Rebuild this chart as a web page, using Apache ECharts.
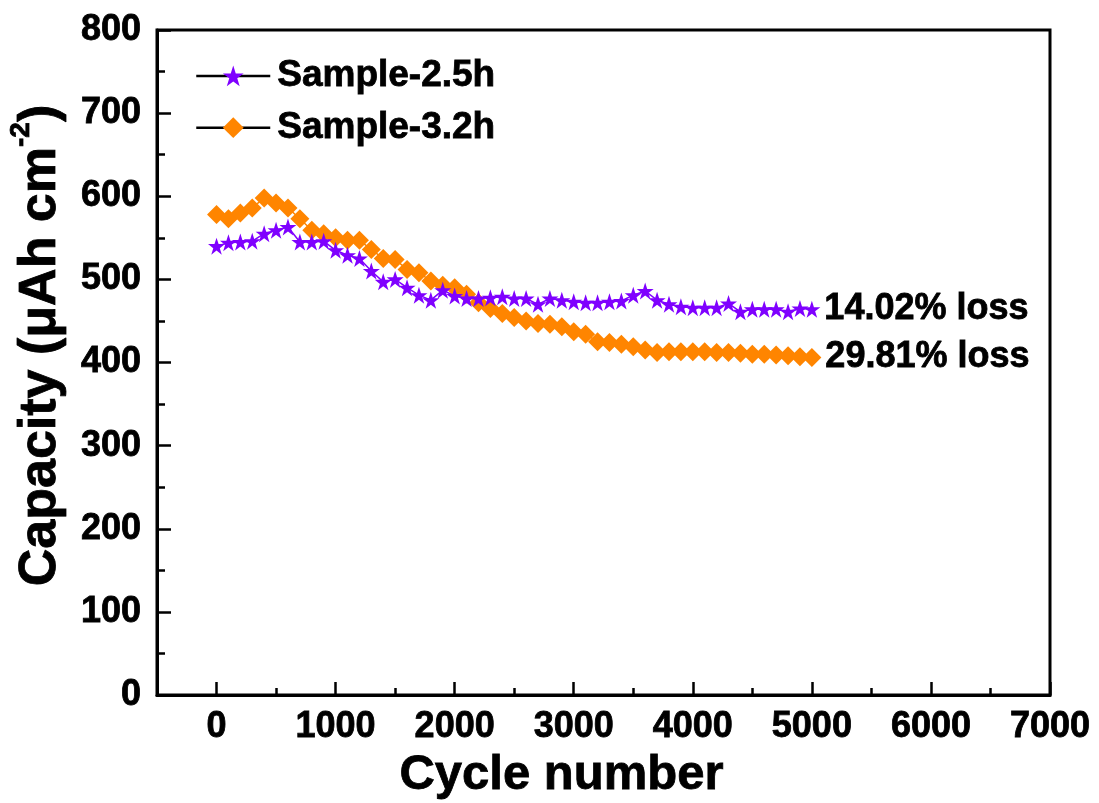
<!DOCTYPE html>
<html>
<head>
<meta charset="utf-8">
<script src="https://cdn.jsdelivr.net/npm/echarts@6/dist/echarts.min.js"></script>
<style>html,body{margin:0;padding:0;background:#fff}#c{width:1099px;height:803px}</style>
</head>
<body>
<div id="c"></div>
<script>
var cycles = [0,100,200,300,400,500,600,700,800,900,1000,1100,1200,1300,1400,1500,1600,1700,1800,1900,2000,2100,2200,2300,2400,2500,2600,2700,2800,2900,3000,3100,3200,3300,3400,3500,3600,3700,3800,3900,4000,4100,4200,4300,4400,4500,4600,4700,4800,4900,5000];
var sample25 = [540,544,545,546,555,559,563,545,545,546,535,529,525,510,497,500,490,481,475,487,480,477,477,478,479,477,477,470,477,475,473,472,472,473,474,481,486,475,470,467,466,466,466,471,461,464,464,464,461,465,464];
var sample32 = [578,573,580,586,598,592,586,573,559,555,550,547,547,536,525,524,512,508,498,493,490,482,472,465,459,454,450,447,446,443,437,434,425,424,422,419,415,412,413,413,413,413,412,412,411,410,410,409,408,407,406];
var seriesNames = ['Sample-2.5h','Sample-3.2h'];
var lossLabels = ['14.02% loss','29.81% loss'];
var xMajorTicks = [0,1000,2000,3000,4000,5000,6000,7000];
var xMinorTicks = [500,1500,2500,3500,4500,5500,6500];

var FONT = '"Liberation Sans", Arial, sans-serif';
var STAR = 'path://M50,0 L61.8,35.1 L98.9,35.1 L68.8,56.8 L80.3,91.9 L50,70.2 L19.7,91.9 L31.2,56.8 L1.1,35.1 L38.2,35.1 Z';
var PURPLE = '#7F00FF', ORANGE = '#FF8500';

function txt(size, extra){
  var o = {fontFamily:FONT, fontWeight:'bold', fontSize:size, color:'#000', textBorderColor:'#000', textBorderWidth:0.8};
  if(extra){ for(var k in extra){ o[k]=extra[k]; } }
  return o;
}

function mk(vals, lab){
  return cycles.map(function(c,i){
    var d = {value:[c, vals[i]]};
    if(i === cycles.length-1){
      d.label = txt(36, {show:true, position:'right', distance:4, formatter:lab});
    }
    return d;
  });
}

var chart = echarts.init(document.getElementById('c'), null, {renderer:'canvas'});
chart.setOption({
  animation:false,
  backgroundColor:'#fff',
  grid:{left:157, right:49, top:30, bottom:108, show:true, borderColor:'#000', borderWidth:3,
        containLabel:false, outerBoundsMode:'none'},
  legend:{
    orient:'vertical', left:190, top:52, itemGap:14,
    itemWidth:74, itemHeight:26,
    data:seriesNames,
    lineStyle:{color:'#000', width:2.5},
    textStyle:txt(37, {padding:[0,0,0,2]})
  },
  xAxis:[{
    type:'value', min:-500, max:7000,
    name:'Cycle number', nameLocation:'middle', nameGap:50,
    nameTextStyle:txt(49, {padding:[0,84,0,0]}),
    axisLine:{show:true, onZero:false, lineStyle:{color:'#000', width:3}},
    axisTick:{show:true, inside:true, length:13, lineStyle:{color:'#000', width:2.5}, customValues:xMajorTicks},
    axisLabel:txt(36, {show:true, customValues:xMajorTicks, margin:14, formatter:function(v){return String(v);}}),
    splitLine:{show:false}
  },{
    type:'value', min:-500, max:7000, position:'bottom',
    axisLine:{show:false, onZero:false},
    axisTick:{show:true, inside:true, length:7, lineStyle:{color:'#000', width:2.5}, customValues:xMinorTicks},
    axisLabel:{show:false},
    splitLine:{show:false}
  }],
  yAxis:{
    type:'value', min:0, max:800, interval:100,
    name:'{a|Capacity (μAh cm}{s|-2}{a|)}', nameLocation:'middle', nameRotate:90, nameGap:90,
    nameTextStyle:{padding:[0,0,0,34], rich:{
      a:txt(52, {lineHeight:60, verticalAlign:'bottom'}),
      s:txt(28, {lineHeight:60, verticalAlign:'top'})
    }},
    axisLine:{show:true, onZero:false, lineStyle:{color:'#000', width:3}},
    axisTick:{show:true, inside:true, length:14, lineStyle:{color:'#000', width:2.5}},
    minorTick:{show:true, splitNumber:2, length:8, lineStyle:{color:'#000', width:2.5}},
    axisLabel:txt(36, {margin:16}),
    splitLine:{show:false}
  },
  series:[{
    name:seriesNames[0], type:'line', data:mk(sample25, lossLabels[0]),
    symbol:STAR, symbolSize:17,
    itemStyle:{color:PURPLE}, lineStyle:{color:PURPLE, width:1.5}, z:3
  },{
    name:seriesNames[1], type:'line', data:mk(sample32, lossLabels[1]),
    symbol:'diamond', symbolSize:[19,19],
    itemStyle:{color:ORANGE}, lineStyle:{color:ORANGE, width:1.5}, z:2
  }]
});
</script>
</body>
</html>
